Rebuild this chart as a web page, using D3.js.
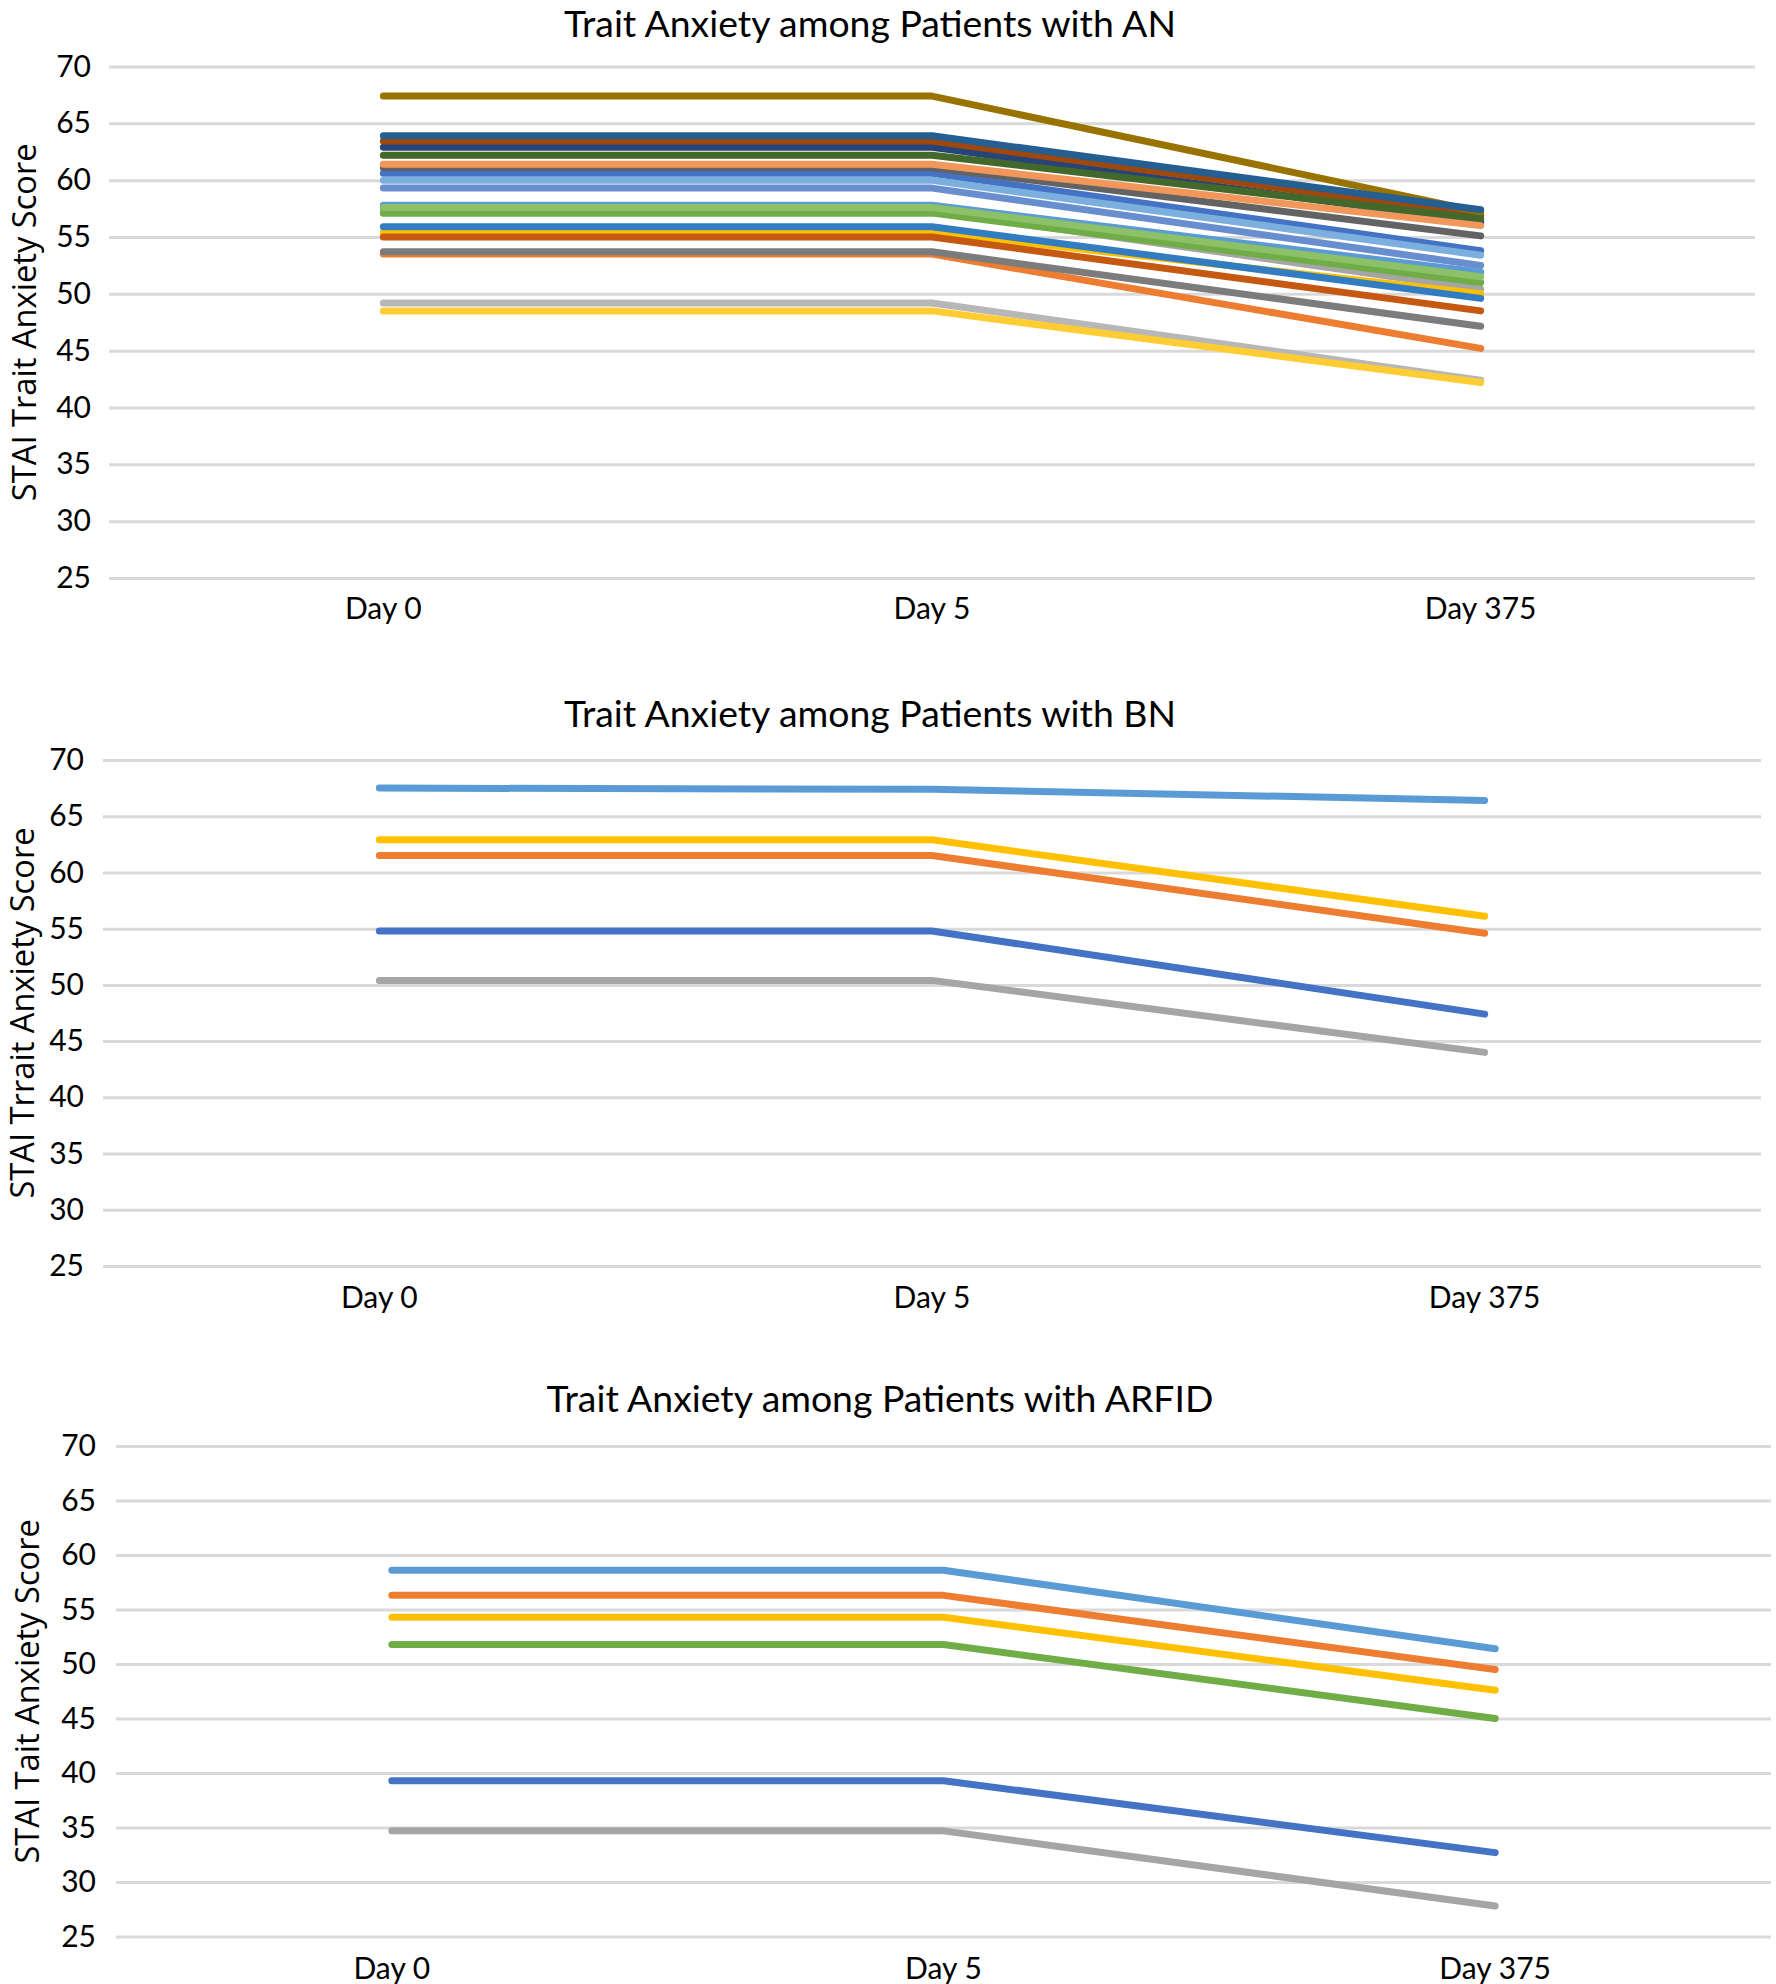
<!DOCTYPE html>
<html>
<head>
<meta charset="utf-8">
<script src="https://cdn.jsdelivr.net/npm/d3@7/dist/d3.min.js"></script>
<style>
  html, body { margin: 0; padding: 0; background: #fff; }
  svg { display: block; }
</style>
</head>
<body>
<svg id="chart" width="1776" height="1984"></svg>
<script>
// ---------------- DATA ----------------
const categories = ["Day 0", "Day 5", "Day 375"];
const yTickValues = [25, 30, 35, 40, 45, 50, 55, 60, 65, 70];

// Anorexia nervosa (AN) patients: values at Day 0, Day 5, Day 375 (Excel series order)
const anSeries = [
  [60.6, 60.6, 53.8],
  [53.5, 53.5, 45.2],
  [57.3, 57.3, 50.4],
  [55.4, 55.4, 50.0],
  [57.8, 57.8, 51.9],
  [57.1, 57.1, 51.0],
  [62.9, 62.9, 56.3],
  [63.45, 63.45, 56.9],
  [61.1, 61.1, 55.1],
  [67.4, 67.4, 57.2],
  [63.9, 63.9, 57.4],
  [62.2, 62.2, 56.6],
  [59.3, 59.3, 52.5],
  [61.4, 61.4, 56.0],
  [49.2, 49.2, 42.4],
  [48.5, 48.5, 42.2],
  [60.0, 60.0, 53.4],
  [57.6, 57.6, 51.5],
  [55.0, 55.0, 48.5],
  [53.7, 53.7, 47.15],
  [55.9, 55.9, 49.6]
];

// Bulimia nervosa (BN) patients
const bnSeries = [
  [54.8, 54.8, 47.4],
  [61.5, 61.5, 54.6],
  [50.4, 50.4, 44.0],
  [62.9, 62.9, 56.1],
  [67.5, 67.4, 66.4]
];

// ARFID patients
const arfidSeries = [
  [39.3, 39.3, 32.7],
  [56.3, 56.3, 49.5],
  [34.7, 34.7, 27.8],
  [54.3, 54.3, 47.6],
  [58.6, 58.6, 51.4],
  [51.8, 51.8, 45.0]
];

const titles = [
  "Trait Anxiety among Patients with AN",
  "Trait Anxiety among Patients with BN",
  "Trait Anxiety among Patients with ARFID"
];
const yTitles = [
  "STAI Trait Anxiety Score",
  "STAI Trrait Anxiety Score",
  "STAI Tait Anxiety Score"
];

// ---------------- STYLE ----------------
const anColors = [
  "#4472C4", "#ED7D31", "#A5A5A5", "#FFC000", "#5B9BD5", "#70AD47",
  "#264478", "#9E480E", "#636363", "#997300", "#255E91", "#43682B",
  "#698ED0", "#F1975A", "#B7B7B7", "#FFCD33", "#7CAFDD", "#8CC168",
  "#C65911", "#7C7C7C", "#327DC2"
];
const officeColors = ["#4472C4", "#ED7D31", "#A5A5A5", "#FFC000", "#5B9BD5", "#70AD47"];

const layouts = [
  { gx0: 109, gx1: 1755, yTop: 66.5, yBot: 578, titleX: 870, titleY: 37, tickPad: 18, xLabelOff: 41, yTitleX: 36, series: anSeries, colors: anColors },
  { gx0: 103, gx1: 1761, yTop: 760, yBot: 1266, titleX: 870, titleY: 727, tickPad: 19, xLabelOff: 42, yTitleX: 34, series: bnSeries, colors: officeColors },
  { gx0: 116, gx1: 1771, yTop: 1446, yBot: 1936.6, titleX: 880, titleY: 1412, tickPad: 20, xLabelOff: 42, yTitleX: 39, series: arfidSeries, colors: officeColors }
];

const svg = d3.select("#chart");
const FONT = "Lato, 'Open Sans', sans-serif";
const YFONT = "'Open Sans', 'Noto Sans', sans-serif";

// fit sizes on first panel texts
function fitSize(text, family, base, target) {
  const t = svg.append("text").attr("font-family", family).attr("font-size", base).text(text);
  const w = t.node().getComputedTextLength();
  t.remove();
  return base * target / w;
}
const titleSize = fitSize(titles[0], FONT, 33, 612);
const yTitleSize = fitSize(yTitles[0], YFONT, 27, 358);

layouts.forEach((L, i) => {
  const g = svg.append("g");
  const x = d3.scaleBand().domain(categories).range([L.gx0, L.gx1]).paddingInner(0).paddingOuter(0);
  const y = d3.scaleLinear().domain([25, 70]).range([L.yBot, L.yTop]);

  // gridlines + y tick labels
  const yAxis = d3.axisLeft(y).tickValues(yTickValues).tickSize(-(L.gx1 - L.gx0)).tickPadding(L.tickPad).tickFormat(d3.format("d"));
  const ya = g.append("g").attr("transform", `translate(${L.gx0},0)`).call(yAxis);
  ya.select(".domain").remove();
  ya.selectAll("line").attr("stroke", "#D9D9D9").attr("stroke-width", 3);
  ya.selectAll("text").attr("font-family", FONT).attr("font-size", 30).attr("fill", "#000");

  // x labels
  const xAxis = d3.axisBottom(x).tickSize(0);
  const xa = g.append("g").attr("transform", `translate(0,${L.yBot})`).call(xAxis);
  xa.select(".domain").remove();
  xa.selectAll("text").attr("font-family", FONT).attr("font-size", 30).attr("fill", "#000")
    .attr("y", L.xLabelOff).attr("dy", 0);

  // lines
  const line = d3.line().x((d, j) => x(categories[j]) + x.bandwidth() / 2).y(d => y(d));
  g.selectAll("path.series").data(L.series).enter().append("path")
    .attr("class", "series")
    .attr("d", line)
    .attr("fill", "none")
    .attr("stroke", (d, j) => L.colors[j % L.colors.length])
    .attr("stroke-width", 7)
    .attr("stroke-linecap", "round")
    .attr("stroke-linejoin", "round");

  // title
  g.append("text").attr("x", L.titleX).attr("y", L.titleY).attr("text-anchor", "middle")
    .attr("font-family", FONT).attr("font-size", titleSize).attr("fill", "#000").text(titles[i]);

  // y axis title
  const cy = (L.yTop + L.yBot) / 2;
  g.append("text").attr("transform", `translate(${L.yTitleX},${cy}) rotate(-90)`)
    .attr("text-anchor", "middle").attr("font-family", YFONT).attr("font-size", yTitleSize)
    .attr("fill", "#000").text(yTitles[i]);
});
</script>
</body>
</html>
